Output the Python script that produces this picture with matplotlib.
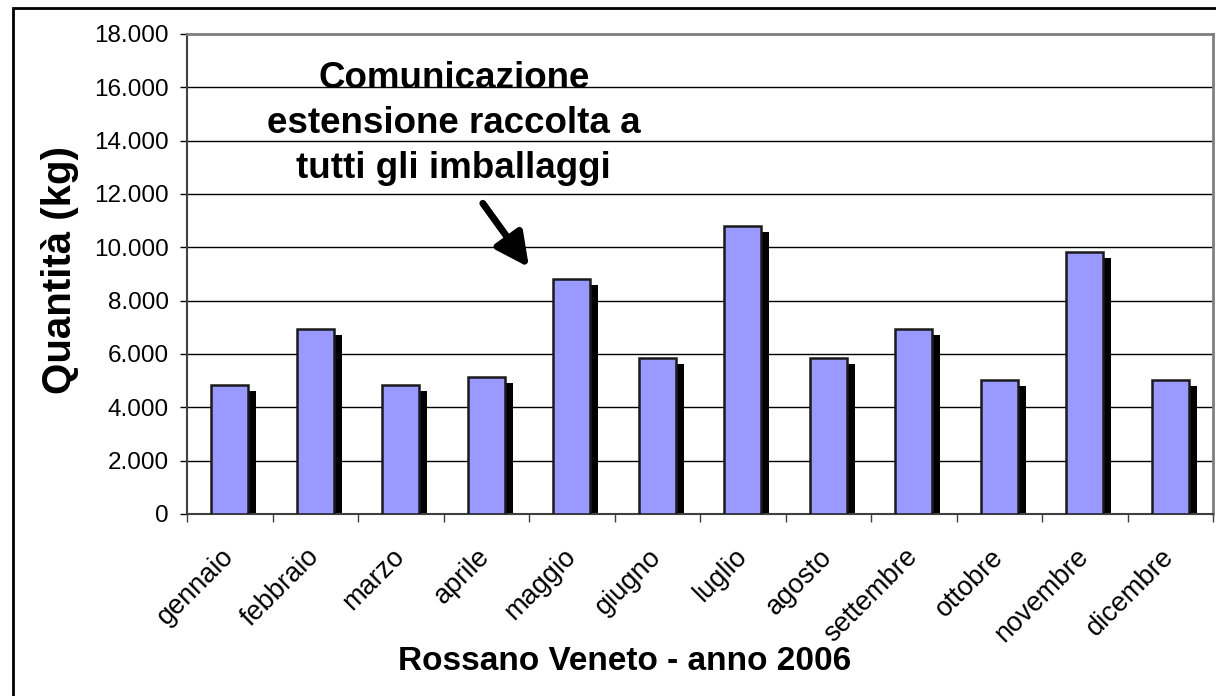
import numpy as np
import matplotlib
matplotlib.use("Agg")
import matplotlib.pyplot as plt
from matplotlib.patches import Rectangle
from matplotlib.ticker import FuncFormatter
from matplotlib.transforms import ScaledTranslation

plt.rcParams["font.family"] = ["Liberation Sans", "DejaVu Sans"]

# Data
months = ["gennaio", "febbraio", "marzo", "aprile", "maggio", "giugno",
          "luglio", "agosto", "settembre", "ottobre", "novembre", "dicembre"]
quantities = [4840, 6925, 4840, 5125, 8800, 5860,
              10800, 5860, 6925, 5010, 9835, 5010]
y_ticks = [0, 2000, 4000, 6000, 8000, 10000, 12000, 14000, 16000, 18000]

note_text = "Comunicazione\nestensione raccolta a\ntutti gli imballaggi"
note_xy = (3.5, 9250)        # arrow tip (maggio)
note_tail = (2.96, 11650)    # arrow tail
note_pos = (2.62, 14650)     # label centre

W, H = 1216, 696
fig = plt.figure(figsize=(W / 100, H / 100), dpi=100)
ax = fig.add_axes([187 / W, 1 - 514 / H, (1213 - 187) / W, (514 - 34) / H])

x = np.arange(len(months))
bw = 0.43

# shadow bars, shifted right/down in screen space
shadow = ax.transData + ScaledTranslation(8 / 100, -6 / 100, fig.dpi_scale_trans)
ax.bar(x, quantities, width=bw, color="black", edgecolor="black",
       linewidth=0, zorder=2, transform=shadow)
ax.bar(x, quantities, width=bw, color="#9999FF", edgecolor="#1a1a1a",
       linewidth=1.8, zorder=3)

ax.set_xlim(-0.5, len(months) - 0.5)
ax.set_ylim(0, 18000)
ax.set_yticks(y_ticks)
ax.yaxis.set_major_formatter(FuncFormatter(lambda v, p: f"{int(v):,}".replace(",", ".")))
ax.tick_params(axis="y", labelsize=17.5, length=5, width=1, pad=8, color="black")
ax.yaxis.grid(True, color="black", linewidth=1)
ax.set_axisbelow(True)

# category boundary ticks, labels at centres
ax.set_xticks(np.arange(len(months) + 1) - 0.5)
ax.set_xticklabels([])
ax.set_xticks(x, minor=True)
ax.set_xticklabels(months, minor=True, rotation=45, ha="right", va="center",
                   rotation_mode="anchor", fontsize=19.5)
ax.tick_params(axis="x", which="major", length=6, width=1, color="#404040")
ax.tick_params(axis="x", which="minor", length=0, pad=28)

for side in ["top", "right"]:
    ax.spines[side].set_color("#808080")
    ax.spines[side].set_linewidth(2)
ax.spines["left"].set_color("#404040")
ax.spines["bottom"].set_color("#404040")
ax.spines["left"].set_linewidth(1.5)
ax.spines["bottom"].set_linewidth(1.5)

ax.text(note_pos[0], note_pos[1], note_text, ha="center", va="center",
        fontsize=26.5, fontweight="bold", linespacing=1.36, zorder=5)
ax.annotate("", xy=note_xy, xytext=note_tail,
            arrowprops=dict(arrowstyle="-|>,head_length=2.0,head_width=1.0",
                            color="black", lw=5, shrinkA=0, shrinkB=0),
            zorder=5)

fig.text(60 / W, 1 - 270 / H, "Quantità (kg)", rotation=90, ha="center",
         va="center", fontsize=29, fontweight="bold")
fig.text(625 / W, 1 - 662 / H, "Rossano Veneto - anno 2006", ha="center",
         va="center", fontsize=24, fontweight="bold")

# outer chart-area border
fig.patches.append(Rectangle((13 / W, -0.1), 1.2, 1 - 8 / H + 0.1,
                             transform=fig.transFigure, fill=False,
                             edgecolor="black", linewidth=2))

fig.savefig("out.png", dpi=100)
